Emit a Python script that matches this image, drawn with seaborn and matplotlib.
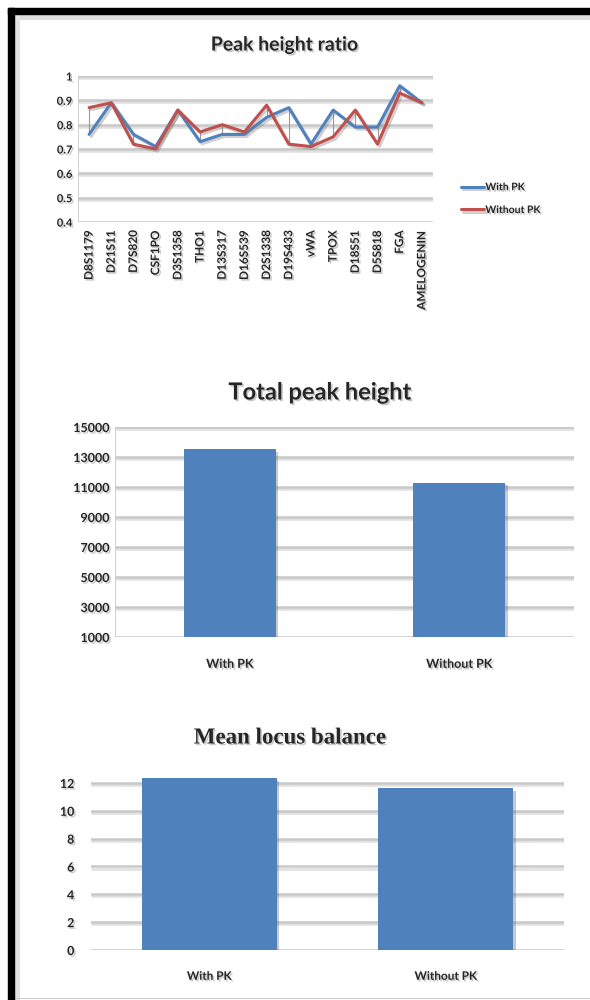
import matplotlib
matplotlib.use("Agg")
import matplotlib.pyplot as plt
import matplotlib.patheffects as pe
from matplotlib.patches import Rectangle
import seaborn as sns
import pandas as pd
import numpy as np

# ---------------- data ----------------
loci = ["D8S1179", "D21S11", "D7S820", "CSF1PO", "D3S1358", "THO1", "D13S317",
        "D16S539", "D2S1338", "D19S433", "vWA", "TPOX", "D18S51", "D5S818",
        "FGA", "AMELOGENIN"]
ratio_with_pk = [0.76, 0.89, 0.76, 0.71, 0.86, 0.73, 0.76, 0.76, 0.83, 0.87,
                 0.72, 0.86, 0.79, 0.79, 0.96, 0.89]
ratio_without_pk = [0.87, 0.89, 0.72, 0.70, 0.86, 0.77, 0.80, 0.77, 0.88, 0.72,
                    0.71, 0.75, 0.86, 0.72, 0.93, 0.89]
ratio_ticks = [0.4, 0.5, 0.6, 0.7, 0.8, 0.9, 1.0]
ratio_ticklabels = ["0.4", "0.5", "0.6", "0.7", "0.8", "0.9", "1"]

conditions = ["With PK", "Without PK"]
total_peak_height = [13550, 11300]
total_ticks = [1000, 3000, 5000, 7000, 9000, 11000, 13000, 15000]
mean_locus_balance = [12.35, 11.65]
balance_ticks = [0, 2, 4, 6, 8, 10, 12]

# ---------------- style ----------------
sns.set_theme(style="white")
plt.rcParams["font.family"] = ["Lato", "DejaVu Sans"]

BLUE = "#4F81BD"
RED = "#C0504D"
GRID = "#c8c8c8"
text_shadow = [pe.withSimplePatchShadow(offset=(1.2, -1.2), shadow_rgbFace="#888888", alpha=0.45)]
line_shadow = [pe.SimpleLineShadow(offset=(1.5, -1.5), shadow_color="#777777", alpha=0.35), pe.Normal()]
bar_shadow = [pe.SimplePatchShadow(offset=(2, -2), shadow_rgbFace="#666666", alpha=0.35), pe.Normal()]

W, H = 590, 1000
fig = plt.figure(figsize=(W / 100, H / 100), dpi=100)
fig.patch.set_facecolor("white")


def ax_px(left, top, right, bottom):
    return fig.add_axes([left / W, 1 - bottom / H, (right - left) / W, (bottom - top) / H])


def style_axis(ax, ticks, labels, fs):
    for s in ax.spines.values():
        s.set_visible(False)
    ax.set_yticks(ticks)
    ax.set_yticklabels(labels, fontsize=fs, fontweight="bold")
    ax.yaxis.grid(True, color=GRID, linewidth=1.8)
    ax.set_axisbelow(True)
    for gl in ax.get_ygridlines():
        gl.set_path_effects([pe.SimpleLineShadow(offset=(1, -1.5), shadow_color="#999999", alpha=0.3), pe.Normal()])
    ax.tick_params(axis="both", length=0, pad=4)
    for t in ax.get_yticklabels() + ax.get_xticklabels():
        t.set_path_effects(text_shadow)
    ax.set_xlabel("")
    ax.set_ylabel("")


# ---------------- chart 1: Peak height ratio ----------------
ax1 = ax_px(78, 76, 433, 222)
df1 = pd.DataFrame({
    "locus": loci * 2,
    "ratio": ratio_with_pk + ratio_without_pk,
    "condition": ["With PK"] * len(loci) + ["Without PK"] * len(loci),
})
ax1.vlines(range(len(loci)), ratio_with_pk, ratio_without_pk, color="#9a9a9a", linewidth=0.8, zorder=2)
sns.lineplot(data=df1, x="locus", y="ratio", hue="condition", palette=[BLUE, RED],
             sort=False, linewidth=2.2, ax=ax1, legend=True, zorder=3)
for ln in ax1.get_lines():
    ln.set_path_effects(line_shadow)
ax1.set_xlim(-0.5, len(loci) - 0.5)
ax1.set_ylim(0.4, 1.0)
ax1.set_xticks(range(len(loci)))
ax1.set_xticklabels(loci, rotation=90, fontsize=8.5, fontweight="bold")
style_axis(ax1, ratio_ticks, ratio_ticklabels, 8)
ax1.tick_params(axis="x", pad=6)
ax1.axvline(-0.5, color=GRID, linewidth=1.2)
leg = ax1.legend(loc="center left", bbox_to_anchor=(452 / W, 1 - 199 / H),
                 bbox_transform=fig.transFigure, frameon=False,
                 prop={"size": 7.5, "weight": "bold"}, handlelength=2.2,
                 handletextpad=0.1, labelspacing=1.3)
for t in leg.get_texts():
    t.set_path_effects(text_shadow)
fig.text(285 / W, 1 - 45 / H, "Peak height ratio", ha="center", va="center",
         fontsize=14, fontweight="bold", path_effects=text_shadow)

# ---------------- chart 2: Total peak height ----------------
ax2 = ax_px(115, 427, 574, 637)
df2 = pd.DataFrame({"condition": conditions, "value": total_peak_height})
sns.barplot(data=df2, x="condition", y="value", color=BLUE, saturation=1,
            width=0.4, linewidth=0, ax=ax2)
for p in ax2.patches:
    p.set_path_effects(bar_shadow)
ax2.set_ylim(1000, 15000)
ax2.set_xlim(-0.5, 1.5)
ax2.set_xticks([0, 1])
ax2.set_xticklabels(conditions, fontsize=9, fontweight="bold")
style_axis(ax2, total_ticks, [str(v) for v in total_ticks], 9)
ax2.axvline(-0.5, color=GRID, linewidth=1.2)
ax2.tick_params(axis="x", pad=15)
fig.text(320 / W, 1 - 392 / H, "Total peak height", ha="center", va="center",
         fontsize=17, fontweight="bold", path_effects=text_shadow)

# ---------------- chart 3: Mean locus balance ----------------
ax3 = ax_px(91, 776, 564, 950)
df3 = pd.DataFrame({"condition": conditions, "value": mean_locus_balance})
sns.barplot(data=df3, x="condition", y="value", color=BLUE, saturation=1,
            width=0.57, linewidth=0, ax=ax3)
for p in ax3.patches:
    p.set_path_effects(bar_shadow)
ax3.set_ylim(0, 12.5)
ax3.set_xlim(-0.5, 1.5)
ax3.set_xticks([0, 1])
ax3.set_xticklabels(conditions, fontsize=8.5, fontweight="bold")
style_axis(ax3, balance_ticks, [str(v) for v in balance_ticks], 9)
ax3.tick_params(axis="y", pad=12)
ax3.tick_params(axis="x", pad=15)
fig.text(290 / W, 1 - 738 / H, "Mean locus balance", ha="center", va="center",
         fontsize=16.5, fontweight="bold", family=["Liberation Serif", "DejaVu Serif"],
         path_effects=text_shadow)

# ---------------- frame ----------------
fig.add_artist(Rectangle((8 / W, 0), 6 / W, (H - 8) / H, transform=fig.transFigure,
                         color="black", zorder=10))
fig.add_artist(Rectangle((8 / W, 1 - 14 / H), (W - 8) / W, 6 / H, transform=fig.transFigure,
                         color="black", zorder=10))
fig.add_artist(Rectangle((14 / W, 1 - 20 / H), (W - 14) / W, 6 / H, transform=fig.transFigure,
                         color="#dddddd", zorder=9, linewidth=0))
fig.add_artist(Rectangle((14 / W, 0), 6 / W, (H - 14) / H, transform=fig.transFigure,
                         color="#e4e4e4", zorder=9, linewidth=0))
fig.add_artist(Rectangle((14 / W, 1 / H), (W - 14) / W, 1.5 / H, transform=fig.transFigure,
                         color="#cccccc", zorder=9, linewidth=0))

fig.savefig("out.png", dpi=100, facecolor="white")
